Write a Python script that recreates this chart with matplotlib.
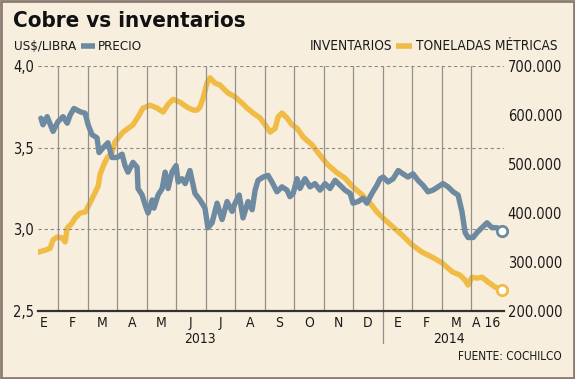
import matplotlib
matplotlib.use("Agg")
import matplotlib.pyplot as plt
from matplotlib.transforms import blended_transform_factory

# ---- data (x in months since 1 Jan 2013) ----
price_x = [0.42, 0.49, 0.63, 0.83, 1.00, 1.17, 1.31, 1.41, 1.54, 1.75, 1.92, 2.02, 2.15, 2.32, 2.39,
           2.53, 2.69, 2.83, 3.00, 3.17, 3.27, 3.37, 3.54, 3.68, 3.71, 3.85, 3.95, 4.05, 4.19, 4.25,
           4.39, 4.53, 4.63, 4.73, 4.86, 5.00, 5.07, 5.20, 5.31, 5.47, 5.58, 5.64, 5.81, 5.98, 6.08,
           6.22, 6.39, 6.56, 6.73, 6.90, 7.00, 7.14, 7.27, 7.44, 7.58, 7.68, 7.78, 7.95, 8.12, 8.25,
           8.42, 8.59, 8.76, 8.86, 8.97, 9.10, 9.20, 9.37, 9.54, 9.71, 9.88, 10.05, 10.22, 10.39,
           10.56, 10.73, 10.90, 11.00, 11.17, 11.34, 11.47, 11.64, 11.81, 11.92, 12.02, 12.19, 12.36,
           12.53, 12.69, 12.86, 13.03, 13.20, 13.37, 13.54, 13.71, 13.88, 14.05, 14.22, 14.39, 14.56,
           14.69, 14.80, 14.90, 15.07, 15.20, 15.37, 15.54, 15.71, 15.88, 16.05]
price = [3.68, 3.64, 3.69, 3.60, 3.66, 3.69, 3.65, 3.70, 3.74, 3.72, 3.71, 3.64, 3.58, 3.56, 3.47,
         3.50, 3.53, 3.44, 3.44, 3.46, 3.39, 3.35, 3.41, 3.38, 3.25, 3.21, 3.15, 3.10, 3.18, 3.13,
         3.21, 3.25, 3.35, 3.25, 3.35, 3.39, 3.29, 3.31, 3.28, 3.36, 3.27, 3.22, 3.18, 3.13, 3.01,
         3.04, 3.16, 3.06, 3.17, 3.11, 3.16, 3.21, 3.07, 3.17, 3.12, 3.24, 3.30, 3.32, 3.33, 3.29,
         3.23, 3.26, 3.24, 3.20, 3.22, 3.31, 3.25, 3.31, 3.26, 3.28, 3.24, 3.28, 3.25, 3.30,
         3.27, 3.24, 3.22, 3.16, 3.17, 3.19, 3.16, 3.22, 3.27, 3.31, 3.32, 3.29, 3.31,
         3.36, 3.34, 3.32, 3.34, 3.30, 3.27, 3.23, 3.24, 3.26, 3.28, 3.26, 3.23, 3.21,
         3.11, 2.98, 2.95, 2.95, 2.98, 3.01, 3.04, 3.01, 3.01, 2.99]

inv_x = [0.32, 0.56, 0.73, 0.83, 0.97, 1.14, 1.24, 1.31, 1.47, 1.58, 1.75, 1.92, 2.08, 2.25, 2.36,
         2.42, 2.56, 2.66, 2.83, 2.93, 3.20, 3.54, 3.71, 3.88, 4.12, 4.36, 4.56, 4.73, 4.90, 5.14,
         5.37, 5.58, 5.71, 5.81, 5.92, 6.05, 6.15, 6.32, 6.49, 6.59, 6.76, 7.00, 7.24, 7.41, 7.61,
         7.85, 8.02, 8.19, 8.36, 8.46, 8.59, 8.76, 8.93, 9.10, 9.31, 9.61, 9.88, 10.15, 10.46, 10.73,
         11.00, 11.31, 11.58, 11.81, 12.08, 12.36, 12.66, 13.00, 13.34, 13.68, 14.02, 14.36, 14.63,
         14.80, 14.90, 15.03, 15.20, 15.37, 15.58, 15.81, 16.05]
inventory = [320, 324, 328, 345, 351, 349, 341, 369, 379, 390, 400, 402, 420, 441, 455,
             478, 500, 512, 524, 545, 565, 580, 596, 614, 620, 614, 606, 622, 632, 626,
             616, 610, 610, 616, 635, 665, 676, 665, 661, 655, 645, 637, 624, 614, 604,
             594, 580, 565, 573, 596, 604, 594, 580, 573, 555, 539, 518, 498, 482, 471,
             453, 437, 420, 402, 386, 371, 355, 335, 320, 310, 298, 280, 273,
             263, 253, 269, 267, 269, 259, 249, 243]  # thousands of tonnes

month_labels = ["E", "F", "M", "A", "M", "J", "J", "A", "S", "O", "N", "D", "E", "F", "M", "A 16"]
year_labels = ["2013", "2014"]
left_ticks = [2.5, 3.0, 3.5, 4.0]
left_tick_labels = ["2,5", "3,0", "3,5", "4,0"]
right_ticks = [200, 300, 400, 500, 600, 700]
right_tick_labels = ["200.000", "300.000", "400.000", "500.000", "600.000", "700.000"]

BG = "#F8EEDE"
BLUE = "#6E8AA0"
YELLOW = "#F0BC45"
TXT = "#1a1a1a"

plt.rcParams['font.family'] = ['DejaVu Sans']
FONT = dict(family='DejaVu Sans', stretch='condensed')

fig = plt.figure(figsize=(5.75, 3.79), dpi=100, facecolor=BG)
ax = fig.add_axes([38/575, 68/379, 465.5/575, 245/379])
ax.set_facecolor(BG)
ax2 = ax.twinx()

ax.set_xlim(0.32, 16.1)
ax.set_ylim(2.5, 4.0)
ax2.set_ylim(200, 700)

for s in list(ax.spines.values()) + list(ax2.spines.values()):
    s.set_visible(False)

# grid
for yv in left_ticks[1:]:
    ax.axhline(yv, color="#8a8a8a", lw=0.8, ls=(0, (3, 2.5)), zorder=1)
for m in range(1, 16):
    ax.axvline(m, color="#958f89", lw=0.9, zorder=1)
ax.axhline(2.5, color="#333333", lw=1.6, zorder=5, clip_on=False)

# year separator extending below axis
trans = blended_transform_factory(ax.transData, ax.transAxes)
ax.plot([12, 12], [0, -0.13], color="#958f89", lw=0.9, transform=trans, clip_on=False)

# series
ax2.plot(inv_x, inventory, color=YELLOW, lw=3.9, solid_capstyle='round', solid_joinstyle='round', zorder=3)
ax2.plot([inv_x[-1]], [inventory[-1]], 'o', ms=7.5, mfc='white', mec=YELLOW, mew=2, zorder=6, clip_on=False)
ax.set_zorder(ax2.get_zorder() + 1)
ax.patch.set_visible(False)
ax2.patch.set_visible(False)
ax.plot(price_x, price, color=BLUE, lw=3.9, solid_capstyle='round', solid_joinstyle='round', zorder=4)
ax.plot([price_x[-1]], [price[-1]], 'o', ms=7.5, mfc='white', mec=BLUE, mew=2, zorder=6, clip_on=False)

# ticks
ax.set_yticks(left_ticks)
ax.set_yticklabels(left_tick_labels, fontsize=10.5, color=TXT, **FONT)
ax.tick_params(axis='y', length=0, pad=3)
ax2.set_yticks(right_ticks)
ax2.set_yticklabels(right_tick_labels, fontsize=10.5, color=TXT, **FONT)
ax2.tick_params(axis='y', length=0, pad=3)

ax.set_xticks([])
for i, lab in enumerate(month_labels):
    xpos = i + 0.5
    ax.text(xpos, -0.048, lab, transform=trans, ha='center', va='center', fontsize=10, color=TXT, **FONT)
ax.text(5.8, -0.115, year_labels[0], transform=trans, ha='center', va='center', fontsize=10, color=TXT, **FONT)
ax.text(14.25, -0.115, year_labels[1], transform=trans, ha='center', va='center', fontsize=10, color=TXT, **FONT)

# titles and legends
fig.text(13/575, 1 - 21/379, "Cobre vs inventarios", fontsize=16, fontweight='bold', color="#111111",
         ha='left', va='center', **FONT)
fig.text(14/575, 1 - 46/379, "US$/LIBRA", fontsize=9.6, color=TXT, ha='left', va='center', **FONT)
fig.lines.append(plt.Line2D([81/575, 95/575], [1 - 46/379, 1 - 46/379], color=BLUE, lw=4,
                            solid_capstyle='butt', transform=fig.transFigure))
fig.text(98/575, 1 - 46/379, "PRECIO", fontsize=9.6, color=TXT, ha='left', va='center', **FONT)

fig.text(392/575, 1 - 46/379, "INVENTARIOS", fontsize=9.8, color=TXT, ha='right', va='center', **FONT)
fig.lines.append(plt.Line2D([396/575, 412/575], [1 - 46/379, 1 - 46/379], color=YELLOW, lw=4,
                            solid_capstyle='butt', transform=fig.transFigure))
fig.text(558/575, 1 - 46/379, "TONELADAS MÉTRICAS", fontsize=9.8, color=TXT, ha='right', va='center', **FONT)

fig.text(562/575, 1 - 356/379, "FUENTE: COCHILCO", fontsize=8.5, color=TXT, ha='right', va='center', **FONT)

# frame
fig.patches.append(plt.Rectangle((0.002, 0.003), 0.996, 0.994, transform=fig.transFigure,
                                 fill=False, ec="#8C7B72", lw=2))

fig.savefig("out.png", dpi=100, facecolor=BG)
